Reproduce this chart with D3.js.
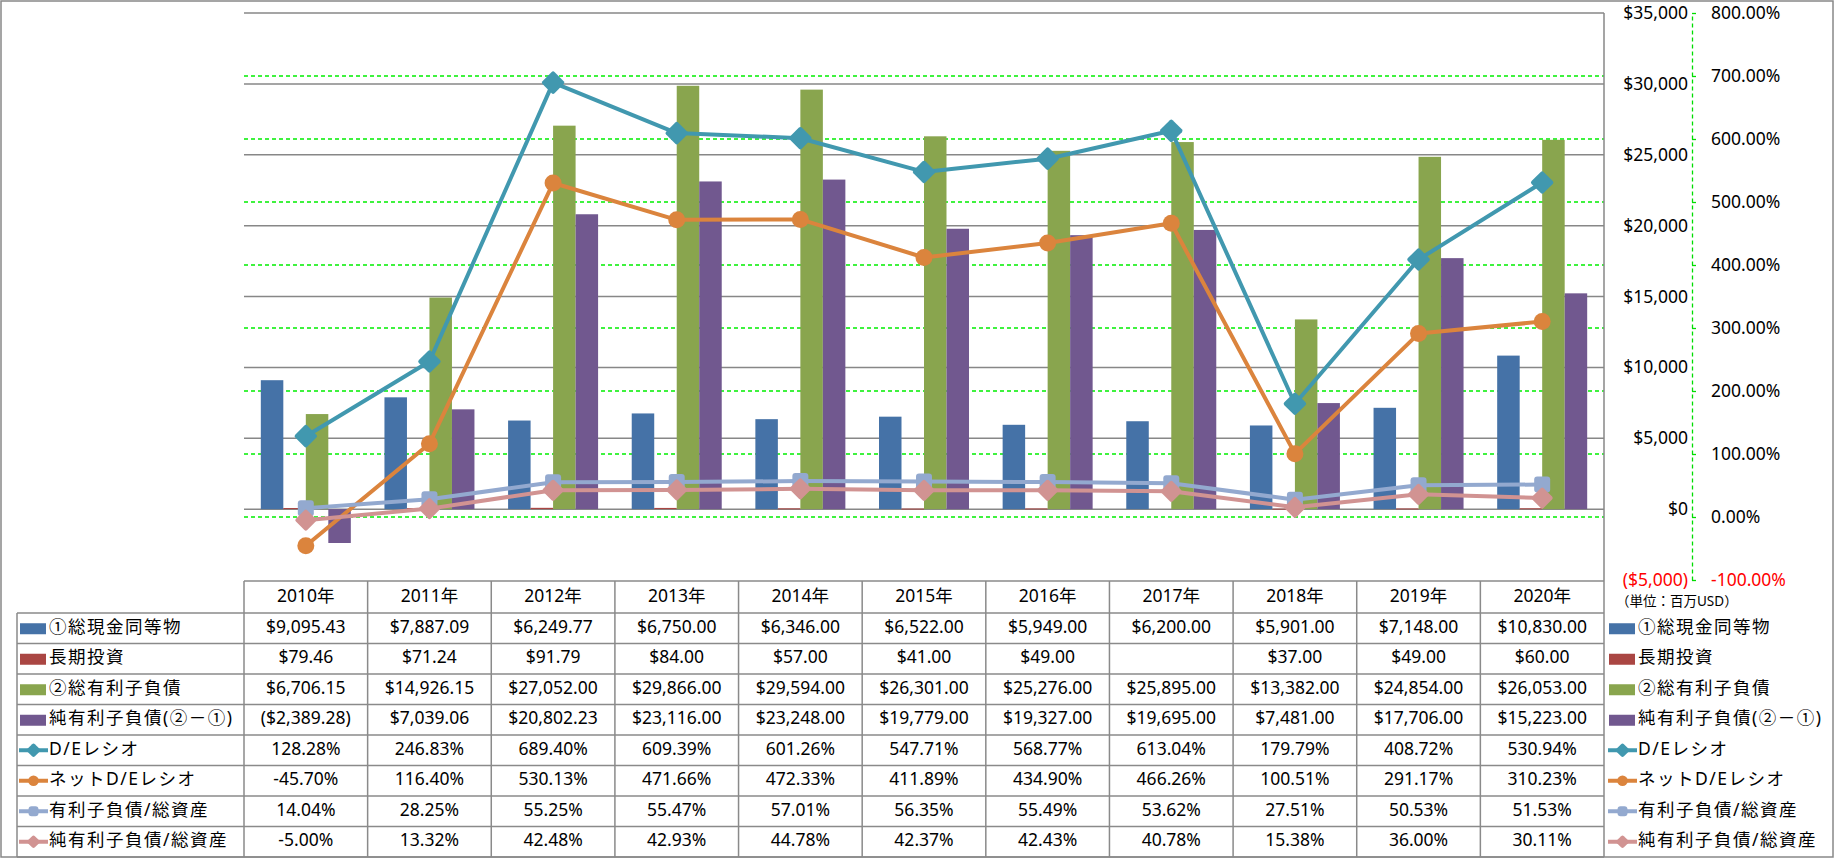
<!DOCTYPE html>
<html>
<head>
<meta charset="utf-8">
<script src="https://cdn.jsdelivr.net/npm/d3@7"></script>
<style>
  body { margin: 0; background: #fff; }
  text { font-family: "Noto Sans", "Noto Sans CJK JP", sans-serif; }
</style>
</head>
<body>
<div id="chart"></div>
<script>
// data
const years = ["2010年", "2011年", "2012年", "2013年", "2014年", "2015年", "2016年", "2017年", "2018年", "2019年", "2020年"];
const cash = [9095.43, 7887.09, 6249.77, 6750, 6346, 6522, 5949, 6200, 5901, 7148, 10830];
const ltInvest = [79.46, 71.24, 91.79, 84, 57, 41, 49, null, 37, 49, 60];
const debt = [6706.15, 14926.15, 27052, 29866, 29594, 26301, 25276, 25895, 13382, 24854, 26053];
const netDebt = [-2389.28, 7039.06, 20802.23, 23116, 23248, 19779, 19327, 19695, 7481, 17706, 15223];
const deRatio = [128.28, 246.83, 689.40, 609.39, 601.26, 547.71, 568.77, 613.04, 179.79, 408.72, 530.94];
const netDeRatio = [-45.70, 116.40, 530.13, 471.66, 472.33, 411.89, 434.90, 466.26, 100.51, 291.17, 310.23];
const debtToAssets = [14.04, 28.25, 55.25, 55.47, 57.01, 56.35, 55.49, 53.62, 27.51, 50.53, 51.53];
const netDebtToAssets = [-5.00, 13.32, 42.48, 42.93, 44.78, 42.37, 42.43, 40.78, 15.38, 36.00, 30.11];

const moneyTicks = d3.range(-5000, 35001, 5000);
const pctTicks = d3.range(-100, 801, 100);

const money = (v) => {
  if (v == null) return "";
  const s = d3.format("$,.2f")(Math.abs(v));
  return v < 0 ? "(" + s + ")" : s;
};
const pct = (v) => (v == null ? "" : v.toFixed(2) + "%");

const rows = [
  { name: "①総現金同等物", values: cash, color: "#4572A7", kind: "bar", fmt: money },
  { name: "長期投資", values: ltInvest, color: "#AA4643", kind: "bar", fmt: money },
  { name: "②総有利子負債", values: debt, color: "#89A54E", kind: "bar", fmt: money },
  { name: "純有利子負債(②－①)", values: netDebt, color: "#71588F", kind: "bar", fmt: money },
  { name: "D/Eレシオ", values: deRatio, color: "#4198AF", kind: "line", marker: "diamond", size: 17, fmt: pct },
  { name: "ネットD/Eレシオ", values: netDeRatio, color: "#DB843D", kind: "line", marker: "circle", size: 17, fmt: pct },
  { name: "有利子負債/総資産", values: debtToAssets, color: "#93A9CF", kind: "line", marker: "square", size: 16, fmt: pct },
  { name: "純有利子負債/総資産", values: netDebtToAssets, color: "#D19392", kind: "line", marker: "diamond", size: 16, fmt: pct },
];

const width = 1836;
const height = 858;
const plot = { left: 244, right: 1604, top: 13, bottom: 580 };
const table = { label: 17, header: 581, top: 613, bottom: 857 };
const fs = 17.5;

const svg = d3.select("#chart").append("svg")
  .attr("width", width)
  .attr("height", height);

const x = d3.scaleBand().domain(years).range([plot.left, plot.right]);
const yL = d3.scaleLinear().domain([-5000, 35000]).range([plot.bottom, plot.top]);
const yR = d3.scaleLinear().domain([-100, 800]).range([plot.bottom, plot.top]);

// gridlines: green dashed for %, gray for $
svg.append("g").selectAll("line")
  .data(pctTicks.filter((d) => d > -100 && d < 800))
  .join("line")
  .attr("x1", plot.left).attr("x2", plot.right)
  .attr("y1", (d) => yR(d)).attr("y2", (d) => yR(d))
  .attr("stroke", "#00EE00")
  .attr("stroke-width", 1.3)
  .attr("stroke-dasharray", "4,3");

svg.append("g").selectAll("line")
  .data(moneyTicks.filter((d) => d > -5000))
  .join("line")
  .attr("x1", plot.left).attr("x2", plot.right)
  .attr("y1", (d) => yL(d)).attr("y2", (d) => yL(d))
  .attr("stroke", "#878787")
  .attr("stroke-width", 1.5);

svg.append("line")
  .attr("x1", plot.right).attr("x2", plot.right)
  .attr("y1", plot.top).attr("y2", table.header)
  .attr("stroke", "#878787").attr("stroke-width", 1.5);

// bars
const barRows = rows.filter((r) => r.kind === "bar");
const inner = d3.scaleBand().domain(barRows.map((r) => r.name));
const groupW = 90;

barRows.forEach((r) => {
  svg.append("g").selectAll("rect")
    .data(r.values.map((v, i) => ({ v, year: years[i] })).filter((d) => d.v != null))
    .join("rect")
    .attr("x", (d) => {
      const c = x(d.year) + x.bandwidth() / 2;
      inner.range([c - groupW / 2, c + groupW / 2]);
      return inner(r.name);
    })
    .attr("width", groupW / 4)
    .attr("y", (d) => Math.min(yL(d.v), yL(0)))
    .attr("height", (d) => Math.max(1, Math.abs(yL(d.v) - yL(0))))
    .attr("fill", r.color);
});

// markers
function drawMarker(g, r, cx, cy, scale) {
  const s = r.size * scale;
  if (r.marker === "diamond") {
    g.append("rect")
      .attr("x", -s / 2).attr("y", -s / 2)
      .attr("width", s).attr("height", s).attr("rx", 2)
      .attr("transform", `translate(${cx},${cy}) rotate(45)`)
      .attr("fill", r.color);
  } else if (r.marker === "circle") {
    g.append("circle")
      .attr("cx", cx).attr("cy", cy).attr("r", s / 2)
      .attr("fill", r.color);
  } else {
    g.append("rect")
      .attr("x", cx - s / 2).attr("y", cy - s / 2)
      .attr("width", s).attr("height", s).attr("rx", 3)
      .attr("fill", r.color);
  }
}

const lineRows = rows.filter((r) => r.kind === "line");
lineRows.forEach((r) => {
  const g = svg.append("g");
  const line = d3.line()
    .x((d, i) => x(years[i]) + x.bandwidth() / 2)
    .y((d) => yR(d));
  g.append("path")
    .datum(r.values)
    .attr("d", line)
    .attr("fill", "none")
    .attr("stroke", r.color)
    .attr("stroke-width", 4)
    .attr("stroke-linejoin", "round");
  r.values.forEach((v, i) => {
    drawMarker(g, r, x(years[i]) + x.bandwidth() / 2, yR(v), 1);
  });
});

// axes on the right
const axisX = 1692;
const leftAxis = svg.append("g")
  .attr("transform", `translate(${axisX},0)`)
  .call(d3.axisLeft(yL).tickValues(moneyTicks).tickSize(0).tickPadding(4)
    .tickFormat((d) => (d < 0 ? "($" + d3.format(",")(-d) + ")" : d3.format("$,")(d))));
leftAxis.select(".domain").remove();

const rightAxis = svg.append("g")
  .attr("transform", `translate(${axisX},0)`)
  .call(d3.axisRight(yR).tickValues(pctTicks).tickSize(4).tickSizeOuter(0).tickPadding(15)
    .tickFormat((d) => d.toFixed(2) + "%"));
rightAxis.select(".domain")
  .attr("stroke", "#00DD00")
  .attr("stroke-width", 1.3)
  .attr("stroke-dasharray", "4,3");
rightAxis.selectAll(".tick line").attr("stroke", "#00DD00").attr("stroke-width", 1.3);

svg.selectAll(".tick text")
  .attr("font-size", fs)
  .attr("fill", (d) => (d < 0 ? "#FF0000" : "#000"))
  .style("font-family", '"Noto Sans", sans-serif');

svg.append("text")
  .attr("x", 1616).attr("y", 602)
  .attr("dominant-baseline", "middle")
  .attr("font-size", 13.5)
  .text("（単位：百万USD）");

// data table
const rowY = d3.scaleBand().domain(rows.map((r) => r.name)).range([table.top, table.bottom]);
const grid = svg.append("g").attr("stroke", "#8A8A8A").attr("stroke-width", 1.5);

grid.append("line")
  .attr("x1", plot.left).attr("x2", plot.right)
  .attr("y1", table.header).attr("y2", table.header);
grid.selectAll(".hrow")
  .data(rows.map((r) => rowY(r.name)).concat([table.bottom]))
  .join("line")
  .attr("x1", table.label).attr("x2", plot.right)
  .attr("y1", (d) => d).attr("y2", (d) => d);
grid.selectAll(".vcol")
  .data(years.map((y) => x(y)).concat([plot.right]))
  .join("line")
  .attr("x1", (d) => d).attr("x2", (d) => d)
  .attr("y1", table.header).attr("y2", table.bottom);
grid.append("line")
  .attr("x1", table.label).attr("x2", table.label)
  .attr("y1", table.top).attr("y2", table.bottom);

svg.append("g").selectAll("text")
  .data(years)
  .join("text")
  .attr("x", (d) => x(d) + x.bandwidth() / 2)
  .attr("y", (table.header + table.top) / 2)
  .attr("text-anchor", "middle")
  .attr("dominant-baseline", "middle")
  .attr("font-size", fs)
  .text((d) => d);

function legendKey(g, r, x0, cy) {
  if (r.kind === "bar") {
    g.append("rect")
      .attr("x", x0).attr("y", cy - 5)
      .attr("width", 26).attr("height", 11)
      .attr("fill", r.color);
  } else {
    g.append("line")
      .attr("x1", x0 - 1).attr("x2", x0 + 28)
      .attr("y1", cy).attr("y2", cy)
      .attr("stroke", r.color).attr("stroke-width", 4);
    drawMarker(g, r, x0 + 13.5, cy, 0.62);
  }
}

rows.forEach((r) => {
  const cy = rowY(r.name) + rowY.bandwidth() / 2;
  const g = svg.append("g");
  // left legend + label
  legendKey(g, r, 20, cy);
  g.append("text")
    .attr("x", 49).attr("y", cy)
    .attr("dominant-baseline", "middle")
    .attr("font-size", fs)
    .attr("letter-spacing", 1.5)
    .text(r.name);
  // values
  g.selectAll(".val")
    .data(r.values)
    .join("text")
    .attr("x", (d, i) => x(years[i]) + x.bandwidth() / 2)
    .attr("y", cy)
    .attr("text-anchor", "middle")
    .attr("dominant-baseline", "middle")
    .attr("font-size", fs)
    .text((d) => r.fmt(d));
  // right legend
  legendKey(g, r, 1609, cy);
  g.append("text")
    .attr("x", 1638).attr("y", cy)
    .attr("dominant-baseline", "middle")
    .attr("font-size", fs)
    .attr("letter-spacing", 1.5)
    .text(r.name);
});

// outer border
svg.append("rect")
  .attr("x", 1).attr("y", 1)
  .attr("width", 1832).attr("height", 856)
  .attr("fill", "none")
  .attr("stroke", "#888")
  .attr("stroke-width", 1.5);
</script>
</body>
</html>
